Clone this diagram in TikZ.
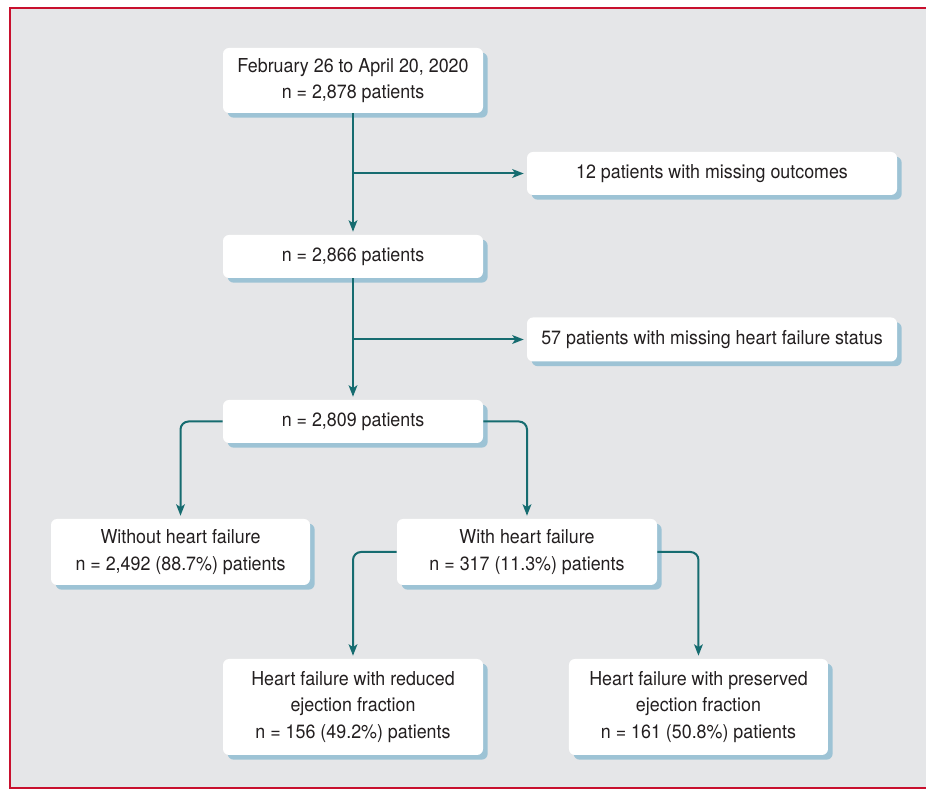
\documentclass[tikz,border=0pt]{standalone}
\usepackage{fontspec}
\setmainfont[FakeStretch=0.93]{TeX Gyre Heros}
\usepackage{tikz}
\usetikzlibrary{arrows.meta,shadows}
\definecolor{framered}{RGB}{200,16,46}
\definecolor{panelgray}{RGB}{229,230,232}
\definecolor{shadowblue}{RGB}{157,195,213}
\definecolor{flowteal}{RGB}{22,108,112}
\definecolor{textgray}{RGB}{35,31,32}
\tikzset{
    stage/.style={
           rectangle,
           rounded corners=4.5pt,
           fill=white,
           drop shadow={shadow xshift=3.5pt, shadow yshift=-3.5pt,
                        fill=shadowblue, opacity=1},
           text=textgray,
           align=center,
           inner sep=2pt,
           font=\fontsize{14.4pt}{19.7pt}\selectfont,
           },
    flow/.style={
           draw=flowteal, line width=1.5pt,
           rounded corners=6pt,
           -{Stealth[length=8.5pt,width=6.5pt,inset=2pt]},
           shorten >=2.25pt,
           },
}

\begin{document}
\begin{tikzpicture}[x=0.75pt,y=-0.75pt]
    % page and framed panel
    \useasboundingbox (0,0) rectangle (926,791);
    \fill[white] (0,0) rectangle (926,791);
    \draw[framered, line width=1.5pt, fill=panelgray] (10,8) rectangle (945,788);

    % Study population
    \node[stage,    	% layout (defined above)
    minimum width=195pt, minimum height=48.75pt,
    anchor=center] (start) at (353,80.5)
    {February 26 to April 20, 2020\\n = 2,878 patients};

    \node[stage,
    minimum width=195pt, minimum height=32.25pt,
    below of=start,
    node distance=132pt,
    anchor=center] (total)
    {n = 2,866 patients};

    \node[stage,
    minimum width=195pt, minimum height=32.25pt,
    below of=total,
    node distance=123.75pt,
    anchor=center] (cohort)
    {n = 2,809 patients};

    % Exclusions
    \node[stage,
    minimum width=277.5pt, minimum height=32.25pt,
    anchor=center] (outcomes) at (712,173.5)
    {12 patients with missing outcomes};

    \node[stage,
    minimum width=277.5pt, minimum height=33pt,
    anchor=center] (status) at (712,339.5)
    {57 patients with missing heart failure status};

    % Heart failure groups
    \node[stage,
    minimum width=194.25pt, minimum height=49.5pt,
    anchor=center] (nohf) at (180.5,552)
    {Without heart failure\\n = 2,492 (88.7\%) patients};

    \node[stage,
    minimum width=195pt, minimum height=49.5pt,
    anchor=center] (hf) at (527,552)
    {With heart failure\\n = 317 (11.3\%) patients};

    \node[stage,
    minimum width=195pt, minimum height=72pt,
    anchor=center] (hfref) at (353,707)
    {Heart failure with reduced\\ejection fraction\\n = 156 (49.2\%) patients};

    \node[stage,
    minimum width=194.25pt, minimum height=72pt,
    right of=hfref,
    node distance=259.1pt,
    anchor=center] (hfpef)
    {Heart failure with preserved\\ejection fraction\\n = 161 (50.8\%) patients};

    % branch points on the main line
    \coordinate (cut1) at (353,173.5);
    \coordinate (cut2) at (353,339.5);

    % draw the arrows
    \draw[flow] (start.south) -- (total.north);
    \draw[flow] (cut1) -- (outcomes.west);
    \draw[flow] (total.south) -- (total.south |- cohort.north);
    \draw[flow] (cut2) -- (status.west);
    \draw[flow] (cohort.west) -| (nohf.north);
    \draw[flow] (cohort.east) -| (hf.north);
    \draw[flow] (hf.west) -| (hfref.north);
    \draw[flow] (hf.east) -| (hfpef.north);
\end{tikzpicture}
\end{document}
